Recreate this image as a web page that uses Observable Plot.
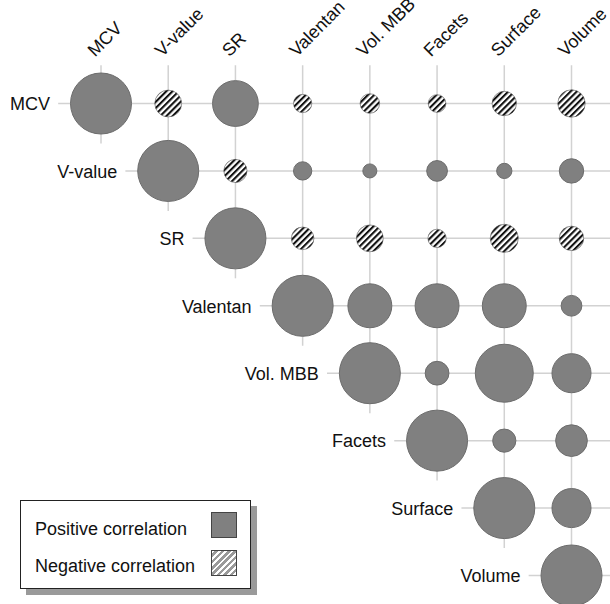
<!DOCTYPE html>
<html>
<head>
<meta charset="utf-8">
<script src="https://cdn.jsdelivr.net/npm/d3@7"></script>
<script src="https://cdn.jsdelivr.net/npm/@observablehq/plot@0.6"></script>
<style>
  html, body { margin: 0; padding: 0; background: #fff; }
  #wrap { position: relative; width: 610px; height: 604px; font-family: "Liberation Sans", Arial, sans-serif; }
  #legend { position: absolute; left: 20px; top: 500px; width: 229px; height: 87px; border: 1.5px solid #222; background: #fff; box-shadow: 6px 6px 0 #9a9a9a; color: #111; font-size: 18px; }
  .lt { position: absolute; left: 14px; white-space: nowrap; line-height: 1; }
  .sw { position: absolute; left: 190px; width: 24px; height: 24px; border: 1px solid #444; }
</style>
</head>
<body>
<div id="wrap"></div>
<script>
const vars = ["MCV", "V-value", "SR", "Valentan", "Vol. MBB", "Facets", "Surface", "Volume"];
// upper-triangle correlations, each row starting at the diagonal
const rowMCV      = [1, -0.44, 0.75, -0.30, -0.32, -0.29, -0.40, -0.45];
const rowVvalue   = [1, -0.38, 0.30, 0.23, 0.34, 0.25, 0.40];
const rowSR       = [1, -0.37, -0.44, -0.30, -0.46, -0.40];
const rowValentan = [1, 0.72, 0.72, 0.72, 0.34];
const rowVolMBB   = [1, 0.39, 0.95, 0.64];
const rowFacets   = [1, 0.38, 0.52];
const rowSurface  = [1, 0.64];
const rowVolume   = [1];
const legendLabels = ["Positive correlation", "Negative correlation"];

const rows = [rowMCV, rowVvalue, rowSR, rowValentan, rowVolMBB, rowFacets, rowSurface, rowVolume];
const cells = [];
rows.forEach((row, i) => row.forEach((v, k) => cells.push({i, j: i + k, v, a: Math.abs(v)})));
const idx = vars.map((_, i) => i);

const gridColor = "#d2d2d2";
const font = "Liberation Sans, Arial, sans-serif";

const chart = Plot.plot({
  width: 610,
  height: 604,
  style: {overflow: "visible", fontFamily: font, background: "white"},
  x: {type: "linear", domain: [0, 7], range: [100.5, 571], axis: null},
  y: {type: "linear", domain: [0, 7], range: [103, 575], axis: null},
  r: {type: "linear", domain: [0, 1], range: [0, 30.5]},
  marks: [
    Plot.ruleX(idx, {x: d => d, y1: -0.56, y2: d => d + 0.6, stroke: gridColor, strokeWidth: 1.5}),
    Plot.ruleY(idx, {y: d => d, x1: d => d - 0.63, x2: 7.6, stroke: gridColor, strokeWidth: 1.5}),
    Plot.dot(cells.filter(d => d.v > 0), {x: "j", y: "i", r: "a", fill: "#808080", stroke: "#6c6c6c", strokeWidth: 1}),
    Plot.dot(cells.filter(d => d.v < 0), {x: "j", y: "i", r: "a", fill: "url(#hatch)", stroke: "#555", strokeWidth: 0.6}),
    Plot.text(idx, {x: d => d, y: d => d, text: d => vars[d], textAnchor: "end", dx: -51, dy: 1, fontSize: 18, fill: "#111"}),
    Plot.text(idx, {x: d => d, y: 0, text: d => vars[d], rotate: -45, textAnchor: "start", lineAnchor: "bottom", dx: -6, dy: -46, fontSize: 18, fill: "#111"})
  ]
});

d3.select(chart).insert("defs", ":first-child").html(
  '<pattern id="hatch" patternUnits="userSpaceOnUse" width="4.4" height="4.4" patternTransform="rotate(45)">' +
  '<rect width="4.4" height="4.4" fill="#fff"/><rect width="2.1" height="4.4" fill="#111"/></pattern>'
);

const wrap = document.getElementById("wrap");
wrap.appendChild(chart);

const legend = document.createElement("div");
legend.id = "legend";
legend.innerHTML =
  `<div class="lt" style="top:19px">${legendLabels[0]}</div>` +
  `<div class="sw" style="top:11px;background:#808080;"></div>` +
  `<div class="lt" style="top:56px">${legendLabels[1]}</div>` +
  `<div class="sw" style="top:49px;background:repeating-linear-gradient(135deg,#fff 0 2px,#9a9a9a 2px 4.5px);"></div>`;
wrap.appendChild(legend);
</script>
</body>
</html>
